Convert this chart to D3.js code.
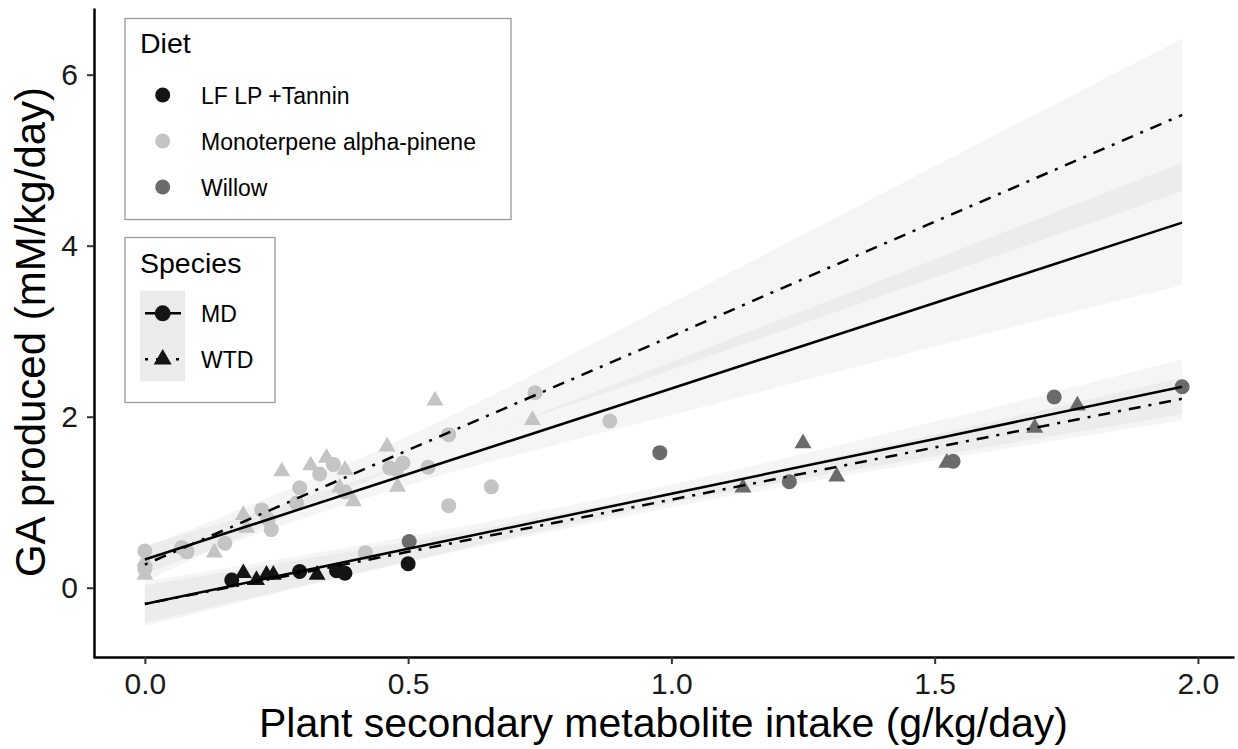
<!DOCTYPE html>
<html>
<head>
<meta charset="utf-8">
<script src="https://cdn.jsdelivr.net/npm/d3@7"></script>
<style>
body { margin: 0; background: #fff; }
text { font-family: "Liberation Sans", Arial, Helvetica, sans-serif; }
</style>
</head>
<body>
<div id="chart"></div>
<script>
// Data: [intake, GA]

var tanninMD = [[0.165, 0.09], [0.294, 0.19], [0.364, 0.20], [0.38, 0.17], [0.50, 0.28]];
var tanninWTD = [[0.187, 0.17], [0.212, 0.09], [0.231, 0.15], [0.244, 0.15], [0.327, 0.15]];

var monoMD = [[0, 0.43], [0, 0.22], [0.07, 0.47], [0.08, 0.42], [0.152, 0.52], [0.222, 0.91],
	[0.234, 0.80], [0.24, 0.68], [0.288, 0.99], [0.294, 1.17], [0.332, 1.33], [0.358, 1.44],
	[0.38, 1.12], [0.419, 0.41], [0.465, 1.40], [0.478, 1.38], [0.49, 1.46], [0.538, 1.41],
	[0.577, 1.79], [0.577, 0.96], [0.658, 1.18], [0.741, 2.28], [0.883, 1.95]];
var monoWTD = [[0, 0.31], [0, 0.15], [0.132, 0.41], [0.187, 0.85], [0.193, 0.70], [0.26, 1.36],
	[0.315, 1.43], [0.345, 1.52], [0.37, 1.17], [0.38, 1.38], [0.396, 1.01], [0.46, 1.65],
	[0.48, 1.18], [0.551, 2.19], [0.736, 1.96]];

var willowMD = [[0.502, 0.54], [0.978, 1.58], [1.224, 1.24], [1.535, 1.48], [1.727, 2.23], [1.97, 2.35]];
var willowWTD = [[1.136, 1.17], [1.25, 1.69], [1.314, 1.30], [1.523, 1.46], [1.69, 1.87], [1.771, 2.13]];

// fitted lines and their bands, read at these intakes
var fitX = [0, 0.5, 1.0, 1.5, 1.97];
var upperMDfit = [0.33, 1.33, 2.33, 3.33, 4.27];
var upperMDlo = [0.17, 1.20, 2.02, 2.82, 3.54];
var upperMDhi = [0.49, 1.46, 2.64, 3.84, 4.97];
var upperWTDfit = [0.27, 1.61, 2.94, 4.28, 5.53];
var upperWTDlo = [0.07, 1.45, 2.55, 3.63, 4.64];
var upperWTDhi = [0.47, 1.77, 3.33, 4.93, 6.42];
var lowerMDfit = [-0.19, 0.455, 1.10, 1.74, 2.35];
var lowerMDlo = [-0.45, 0.31, 0.99, 1.54, 2.03];
var lowerMDhi = [0.07, 0.60, 1.21, 1.94, 2.67];
var lowerWTDfit = [-0.19, 0.42, 1.03, 1.64, 2.21];
var lowerWTDlo = [-0.41, 0.30, 0.94, 1.49, 1.96];
var lowerWTDhi = [0.03, 0.54, 1.12, 1.79, 2.46];

var xTicks = [0, 0.5, 1.0, 1.5, 2.0];
var yTicks = [0, 2, 4, 6];
var dietNames = ["LF LP +Tannin", "Monoterpene alpha-pinene", "Willow"];
var dietColors = ["#141414", "#c4c4c4", "#6b6b6b"];
var speciesNames = ["MD", "WTD"];

// Globals
var width = 1238;
var height = 749;
var svg = d3.select("#chart")
	.append("svg")
	.attr("width", width)
	.attr("height", height);

var x = d3.scaleLinear().domain([-0.0985, 2.0685]).range([93, 1234]);
var y = d3.scaleLinear().domain([-0.81, 6.78]).range([657, 8]);

var dotdash = "3,8,12,8";

function DrawBand(lo, hi) {
	var rows = fitX.map(function(v, i) { return {x: v, lo: lo[i], hi: hi[i]}; });
	svg.append("path")
		.datum(rows)
		.attr("fill", "#999")
		.attr("fill-opacity", 0.1)
		.attr("d", d3.area()
			.curve(d3.curveMonotoneX)
			.x(function(d) { return x(d.x); })
			.y0(function(d) { return y(d.lo); })
			.y1(function(d) { return y(d.hi); }));
}

function DrawFit(fit, dashed) {
	var rows = fitX.map(function(v, i) { return [v, fit[i]]; });
	svg.append("path")
		.datum(rows)
		.attr("fill", "none")
		.attr("stroke", "#000")
		.attr("stroke-width", 2.5)
		.attr("stroke-dasharray", dashed ? dotdash : null)
		.attr("d", d3.line()
			.x(function(d) { return x(d[0]); })
			.y(function(d) { return y(d[1]); }));
}

function DrawPoints(pts, color, shape) {
	var sym = shape == "tri" ? d3.symbol().type(d3.symbolTriangle).size(125)
		: d3.symbol().type(d3.symbolCircle).size(177);
	svg.append("g").selectAll("path")
		.data(pts)
		.enter().append("path")
			.attr("transform", function(d) { return "translate(" + x(d[0]) + "," + y(d[1]) + ")"; })
			.attr("d", sym)
			.attr("fill", color);
}

// bands
DrawBand(upperMDlo, upperMDhi);
DrawBand(upperWTDlo, upperWTDhi);
DrawBand(lowerMDlo, lowerMDhi);
DrawBand(lowerWTDlo, lowerWTDhi);

// points
DrawPoints(monoMD, dietColors[1], "circle");
DrawPoints(monoWTD, dietColors[1], "tri");
DrawPoints(willowMD, dietColors[2], "circle");
DrawPoints(willowWTD, dietColors[2], "tri");
DrawPoints(tanninMD, dietColors[0], "circle");
DrawPoints(tanninWTD, dietColors[0], "tri");

// lines
DrawFit(upperMDfit, false);
DrawFit(upperWTDfit, true);
DrawFit(lowerMDfit, false);
DrawFit(lowerWTDfit, true);

// axes
var xAxis = svg.append("g")
	.attr("transform", "translate(0,657)")
	.call(d3.axisBottom(x).tickValues(xTicks).tickFormat(d3.format(".1f"))
		.tickSize(7).tickSizeOuter(0).tickPadding(8.5));
var yAxis = svg.append("g")
	.attr("transform", "translate(94,0)")
	.call(d3.axisLeft(y).tickValues(yTicks).tickSize(7).tickSizeOuter(0).tickPadding(9));

[xAxis, yAxis].forEach(function(g) {
	g.select(".domain").attr("stroke", "#000").attr("stroke-width", 2.5);
	g.selectAll(".tick line").attr("stroke", "#333").attr("stroke-width", 2);
	g.selectAll(".tick text")
		.attr("fill", "#1a1a1a")
		.style("font-size", "30px")
		.style("font-family", "'Liberation Sans', Arial, sans-serif");
});

svg.append("text")
	.attr("x", 663.5)
	.attr("y", 737)
	.attr("text-anchor", "middle")
	.style("font-size", "41px")
	.text("Plant secondary metabolite intake (g/kg/day)");

svg.append("text")
	.attr("transform", "translate(45,332) rotate(-90)")
	.attr("text-anchor", "middle")
	.style("font-size", "42px")
	.text("GA produced (mM/kg/day)");

// legend: Diet
svg.append("rect")
	.attr("x", 125).attr("y", 18.5).attr("width", 386).attr("height", 201)
	.attr("fill", "#fff").attr("stroke", "#9a9a9a").attr("stroke-width", 1.3);
svg.append("text").attr("x", 140).attr("y", 53).style("font-size", "28.5px").text("Diet");
dietNames.forEach(function(n, i) {
	var cy = 95 + i * 46;
	svg.append("circle").attr("cx", 162.7).attr("cy", cy).attr("r", 7.5).attr("fill", dietColors[i]);
	svg.append("text").attr("x", 201).attr("y", cy + 8.5).style("font-size", "23px").text(n);
});

// legend: Species
svg.append("rect")
	.attr("x", 125).attr("y", 237.5).attr("width", 150).attr("height", 165)
	.attr("fill", "#fff").attr("stroke", "#9a9a9a").attr("stroke-width", 1.3);
svg.append("text").attr("x", 140).attr("y", 272.5).style("font-size", "28.5px").text("Species");
svg.append("rect")
	.attr("x", 140).attr("y", 290.5).attr("width", 45).attr("height", 91)
	.attr("fill", "#ebebeb");
speciesNames.forEach(function(n, i) {
	var cy = 313.3 + i * 46;
	svg.append("line")
		.attr("x1", 145).attr("x2", 181).attr("y1", cy).attr("y2", cy)
		.attr("stroke", "#000").attr("stroke-width", 2.5)
		.attr("stroke-dasharray", i == 1 ? dotdash : null);
	svg.append("path")
		.attr("transform", "translate(162.7," + cy + ")")
		.attr("d", i == 1 ? d3.symbol().type(d3.symbolTriangle).size(140)
			: d3.symbol().type(d3.symbolCircle).size(200))
		.attr("fill", "#141414");
	svg.append("text").attr("x", 201).attr("y", cy + 8.5).style("font-size", "23px").text(n);
});
</script>
</body>
</html>
